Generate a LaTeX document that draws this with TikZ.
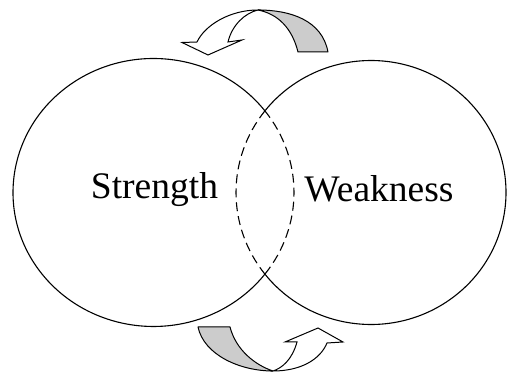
\documentclass[tikz,border=0pt]{standalone}
\usepackage{fontspec}
\setmainfont{Liberation Serif}
\begin{document}
\begin{tikzpicture}[x=1pt,y=1pt,
  ring/.style={line width=1.1pt},
  lens/.style={line width=1.1pt,dash pattern=on 9pt off 5pt},
  backface/.style={draw,line width=1pt,fill=gray!40,line join=round},
  frontface/.style={draw,line width=1pt,fill=white,line join=miter},
  label/.style={font=\fontsize{37.5}{42}\selectfont,anchor=base,inner sep=0pt}]
\useasboundingbox (0,0) rectangle (508,374);
% left circle
\coordinate (LC) at (153.5,181.5);
\draw[ring] (LC) ++(37.47:140.5 and 134) arc[start angle=37.47,end angle=322.53,x radius=140.5,y radius=134];
\draw[lens] (LC) ++(-37.47:140.5 and 134) arc[start angle=-37.47,end angle=37.47,x radius=140.5,y radius=134];
% right circle
\coordinate (RC) at (371,181.5);
\draw[ring] (RC) ++(218.18:135 and 132) arc[start angle=218.18,end angle=501.82,x radius=135,y radius=132];
\draw[lens] (RC) ++(141.82:135 and 132) arc[start angle=141.82,end angle=218.18,x radius=135,y radius=132];
% labels
\node[label] (s) at (154.5,175) {Strength};
\node[label] (w) at (379,172.5) {Weakness};
% top arrow
\path[backface] (328,322) .. controls (322,354) and (290,364) .. (258,364)
  .. controls (278,360) and (292,346) .. (298,322) -- cycle;
\path[frontface] (258,364) .. controls (230,364) and (205,349) .. (197,332)
  -- (182,331.5) -- (208,319) -- (242,334) -- (228,332)
  .. controls (232,349) and (245,361) .. (258,364) -- cycle;
% bottom arrow
\path[backface] (198,47) .. controls (204,19) and (240,3) .. (273,3)
  .. controls (255,9) and (236,24) .. (230,47) -- cycle;
\path[frontface] (273,3) .. controls (300,3) and (320,14) .. (327,31)
  -- (343,32) -- (318,46) -- (285,32) -- (297,32)
  .. controls (292,14) and (282,6) .. (273,3) -- cycle;
\end{tikzpicture}
\end{document}
